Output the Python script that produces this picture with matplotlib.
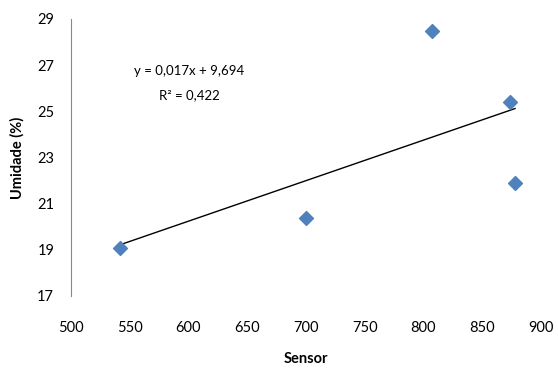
import numpy as np
import matplotlib.pyplot as plt

# Dados
sensor = [541.7, 700, 807, 873.6, 877.9]
umidade = [19.09, 20.39, 28.48, 25.39, 21.9]
xticks = [500, 550, 600, 650, 700, 750, 800, 850, 900]
yticks = [17, 19, 21, 23, 25, 27, 29]

plt.rcParams['font.family'] = ['Lato', 'DejaVu Sans']

fig = plt.figure(figsize=(5.58, 3.76), dpi=100)
ax = fig.add_axes([0.127, 0.2128, 0.8425, 0.7367])

ax.scatter(sensor, umidade, marker='D', s=50, color='#4F81BD', zorder=3)

# Linha de tendência
a, b = np.polyfit(sensor, umidade, 1)
xl = np.array([min(sensor), max(sensor)])
ax.plot(xl, a * xl + b, color='black', lw=1, zorder=2)

ax.text(601, 26.75, 'y = 0,017x + 9,694', ha='center', va='center', fontsize=9.5)
ax.text(601, 25.72, 'R² = 0,422', ha='center', va='center', fontsize=9.5)

ax.set_xlim(500, 900)
ax.set_ylim(17, 29)
ax.set_xticks(xticks)
ax.set_yticks(yticks)
ax.tick_params(length=0, labelsize=10.5)
ax.tick_params(axis='x', pad=18)
ax.tick_params(axis='y', pad=12)
for s in ['top', 'right', 'bottom']:
    ax.spines[s].set_visible(False)
ax.spines['left'].set_color('#888888')

ax.set_xlabel('Sensor', fontsize=10.5, fontweight='bold', labelpad=12)
ax.set_ylabel('Umidade (%)', fontsize=10.5, fontweight='bold', labelpad=9)

fig.savefig('out.png', dpi=100)
